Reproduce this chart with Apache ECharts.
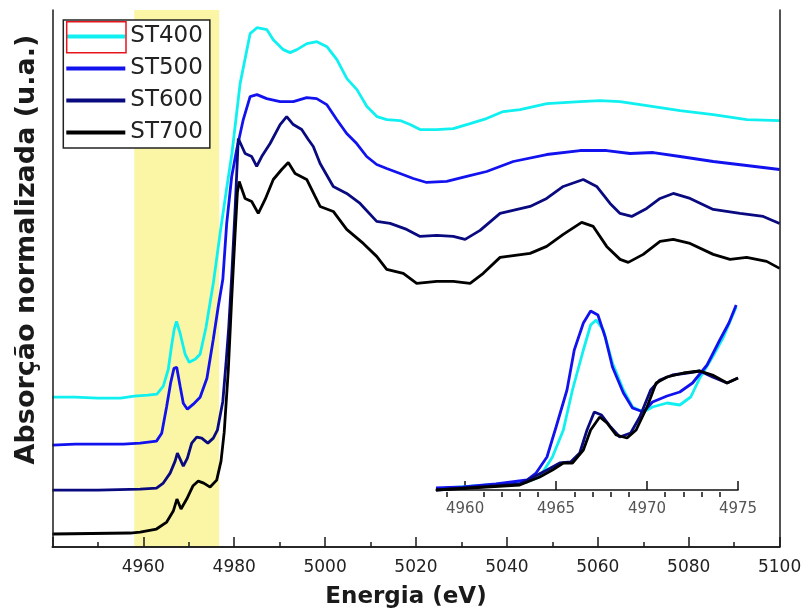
<!DOCTYPE html>
<html>
<head>
<meta charset="utf-8">
<script src="https://cdn.jsdelivr.net/npm/echarts@6/dist/echarts.min.js"></script>
<style>
html, body { margin: 0; padding: 0; background: #fff; }
#chart { width: 806px; height: 614px; }
</style>
</head>
<body>
<div id="chart"></div>
<script>
// sample names + colours
const seriesNames = ['ST400', 'ST500', 'ST600', 'ST700'];
const seriesColors = ['#10F0F0', '#1212EE', '#0A0A80', '#000000'];

// main spectra (energy in eV, normalised absorption with offsets)
const st400E = [4940, 4945, 4950, 4955, 4958, 4961, 4963, 4964.4, 4965.5, 4966.2, 4966.8, 4967.3, 4968.1, 4969.2, 4970.1, 4971.4, 4972.5, 4973.8, 4975.4, 4976.9, 4978.4, 4979.5, 4981.3, 4983.5, 4985, 4987.2, 4988.6, 4990.8, 4992.3, 4993.8, 4996, 4998.2, 5000.4, 5002.6, 5004.8, 5007, 5009.2, 5011.4, 5013.6, 5016.5, 5018.7, 5020.9, 5024.5, 5028.2, 5031.9, 5035.5, 5039.2, 5042.9, 5048.8, 5056.1, 5060.5, 5064.9, 5070.8, 5078.1, 5085.4, 5092.8, 5100];
const st400A = [1.50, 1.50, 1.49, 1.49, 1.51, 1.52, 1.53, 1.61, 1.78, 2.01, 2.18, 2.26, 2.14, 1.93, 1.85, 1.88, 1.93, 2.20, 2.64, 3.14, 3.61, 3.94, 4.64, 5.14, 5.20, 5.18, 5.08, 4.98, 4.95, 4.98, 5.04, 5.06, 5.01, 4.88, 4.69, 4.58, 4.41, 4.31, 4.28, 4.27, 4.23, 4.18, 4.18, 4.19, 4.24, 4.29, 4.36, 4.38, 4.44, 4.46, 4.47, 4.46, 4.42, 4.37, 4.33, 4.28, 4.27];

const st500E = [4940, 4945, 4955.6, 4959.3, 4962.9, 4964.05, 4965.15, 4966, 4966.75, 4967.35, 4968.1, 4968.8, 4969.7, 4971, 4972.5, 4974, 4975.4, 4976.5, 4977.5, 4978.35, 4979.45, 4980.55, 4982, 4983.5, 4985, 4987.15, 4990.1, 4993, 4995.95, 4998.15, 5000.35, 5002.55, 5004.75, 5006.95, 5009.15, 5011.35, 5013.55, 5016.5, 5019.4, 5022.35, 5026.75, 5031.15, 5035.55, 5041.4, 5048.75, 5056.1, 5061.95, 5067.1, 5072.2, 5078.1, 5085.4, 5092.75, 5100];
const st500A = [1.02, 1.03, 1.03, 1.04, 1.06, 1.14, 1.41, 1.64, 1.79, 1.80, 1.61, 1.44, 1.38, 1.43, 1.50, 1.69, 2.08, 2.41, 2.68, 3.24, 3.71, 3.98, 4.28, 4.51, 4.53, 4.49, 4.46, 4.46, 4.50, 4.49, 4.43, 4.28, 4.14, 4.04, 3.91, 3.83, 3.79, 3.74, 3.69, 3.65, 3.66, 3.71, 3.76, 3.86, 3.93, 3.97, 3.97, 3.94, 3.95, 3.91, 3.86, 3.82, 3.78];

const st600E = [4940, 4950, 4959.3, 4962.9, 4964.4, 4965.9, 4967, 4967.5, 4968.1, 4968.8, 4969.7, 4970.65, 4971.75, 4972.85, 4974.2, 4975.4, 4976.3, 4977.5, 4978.2, 4978.8, 4979.45, 4980.2, 4980.9, 4982.4, 4983.85, 4984.95, 4986.05, 4987.9, 4990.1, 4991.55, 4993, 4994.85, 4996.3, 4997.4, 4998.9, 5001.8, 5004.75, 5007.7, 5011.35, 5014.3, 5017.95, 5020.9, 5024.55, 5028.2, 5030.8, 5034.1, 5038.5, 5045.1, 5048.75, 5052.4, 5056.8, 5059.75, 5062.7, 5064.9, 5067.45, 5070.75, 5073.7, 5076.6, 5080.3, 5085.4, 5091.3, 5096.4, 5100];
const st600A = [0.57, 0.57, 0.58, 0.59, 0.64, 0.74, 0.86, 0.94, 0.88, 0.81, 0.89, 1.04, 1.10, 1.09, 1.04, 1.09, 1.17, 1.46, 1.84, 2.20, 2.71, 3.38, 4.09, 3.94, 3.91, 3.81, 3.91, 4.04, 4.23, 4.31, 4.23, 4.18, 4.08, 4.01, 3.84, 3.61, 3.54, 3.44, 3.26, 3.24, 3.18, 3.11, 3.12, 3.11, 3.08, 3.17, 3.34, 3.41, 3.49, 3.61, 3.68, 3.61, 3.44, 3.34, 3.31, 3.39, 3.49, 3.54, 3.49, 3.38, 3.34, 3.31, 3.24];

const st700E = [4940, 4957.1, 4959.3, 4962.9, 4965.15, 4966.6, 4967.4, 4968.3, 4969.55, 4970.9, 4972.1, 4973.3, 4974.7, 4976.15, 4977.1, 4977.8, 4978.7, 4979.45, 4980.2, 4980.7, 4981.1, 4982.4, 4983.85, 4985.3, 4986.8, 4988.6, 4990.45, 4991.9, 4993.4, 4995.95, 4997.8, 4998.9, 5001.8, 5004.75, 5008.4, 5011.35, 5013.55, 5017.2, 5020.15, 5024.55, 5028.2, 5031.9, 5034.8, 5038.5, 5045.1, 5048.75, 5052.4, 5056.45, 5059, 5061.95, 5064.9, 5066.7, 5070, 5073.7, 5076.6, 5080.3, 5085.4, 5089.1, 5092.75, 5097.15, 5100];
const st700A = [0.13, 0.14, 0.15, 0.18, 0.25, 0.36, 0.48, 0.38, 0.48, 0.61, 0.66, 0.64, 0.60, 0.67, 0.86, 1.15, 1.77, 2.49, 3.14, 3.55, 3.66, 3.49, 3.46, 3.34, 3.48, 3.68, 3.78, 3.85, 3.74, 3.68, 3.51, 3.41, 3.36, 3.18, 3.04, 2.91, 2.78, 2.74, 2.64, 2.66, 2.66, 2.64, 2.74, 2.90, 2.94, 3.01, 3.13, 3.25, 3.21, 3.01, 2.88, 2.85, 2.93, 3.06, 3.08, 3.04, 2.93, 2.88, 2.90, 2.86, 2.79];

// inset: pre-edge zoom, no offsets
const in400E = [4958.4, 4961.2, 4963.4, 4964.1, 4964.8, 4965.4, 4965.9, 4966.5, 4966.9, 4967.2, 4967.6, 4968.1, 4968.7, 4969.2, 4969.8, 4970.3, 4971.1, 4971.8, 4972.4, 4972.9, 4973.6, 4974.2, 4974.9];
const in400A = [0.01, 0.05, 0.08, 0.13, 0.33, 0.60, 1.00, 1.40, 1.65, 1.70, 1.60, 1.27, 1.00, 0.83, 0.78, 0.83, 0.87, 0.85, 0.93, 1.12, 1.33, 1.53, 1.83];

const in500E = [4958.4, 4959.9, 4961.7, 4963.4, 4963.9, 4964.5, 4965.0, 4965.6, 4966.0, 4966.5, 4966.9, 4967.3, 4967.7, 4968.1, 4968.7, 4969.2, 4969.8, 4970.3, 4971.1, 4971.8, 4972.5, 4973.3, 4974.0, 4974.5, 4974.9];
const in500A = [0.02, 0.03, 0.06, 0.10, 0.17, 0.33, 0.63, 1.00, 1.40, 1.67, 1.79, 1.75, 1.53, 1.23, 0.97, 0.82, 0.78, 0.88, 0.94, 0.98, 1.07, 1.25, 1.50, 1.67, 1.85];

const in600E = [4958.4, 4963.0, 4964.5, 4965.2, 4965.8, 4966.3, 4966.7, 4967.1, 4967.5, 4968.0, 4968.5, 4969.1, 4969.6, 4970.2, 4970.7, 4971.4, 4972.2, 4972.9, 4973.6, 4974.4, 4975.0];
const in600A = [0.00, 0.06, 0.20, 0.27, 0.28, 0.37, 0.60, 0.78, 0.75, 0.63, 0.53, 0.57, 0.73, 1.00, 1.10, 1.15, 1.17, 1.19, 1.13, 1.07, 1.12];

const in700E = [4958.4, 4963.0, 4964.1, 4964.8, 4965.4, 4965.9, 4966.5, 4966.9, 4967.4, 4967.8, 4968.3, 4968.9, 4969.4, 4970.0, 4970.5, 4971.1, 4972.0, 4972.9, 4973.6, 4974.4, 4975.0];
const in700A = [0.00, 0.05, 0.13, 0.20, 0.27, 0.27, 0.40, 0.60, 0.73, 0.67, 0.55, 0.52, 0.60, 0.83, 1.07, 1.13, 1.17, 1.19, 1.15, 1.07, 1.12];

// highlighted pre-edge window
const bandRange = [4958, 4976.7];
// inset tick values
const insetMajorTicks = [4960, 4965, 4970, 4975];
const insetMinorTicks = [4959, 4961, 4962, 4963, 4964, 4966, 4967, 4968, 4969, 4971, 4972, 4973, 4974];

function toPairs(xs, ys) {
    return xs.map((x, i) => [x, ys[i]]);
}

const mainData = [toPairs(st400E, st400A), toPairs(st500E, st500A), toPairs(st600E, st600A), toPairs(st700E, st700A)];
const insetData = [toPairs(in400E, in400A), toPairs(in500E, in500A), toPairs(in600E, in600A), toPairs(in700E, in700A)];

let myChart = echarts.init(document.getElementById('chart'));

const frameLine = { show: true, lineStyle: { color: '#1a1a1a', width: 1.5 } };
const hidden = { show: false };
const plainNumber = v => String(v);

let series = [
    {
        name: 'band',
        type: 'line',
        xAxisIndex: 0,
        yAxisIndex: 0,
        data: [],
        z: 1,
        markArea: {
            silent: true,
            itemStyle: { color: '#FAF6A6' },
            data: [[{ xAxis: bandRange[0] }, { xAxis: bandRange[1] }]]
        }
    }
];

seriesNames.forEach((name, i) => {
    series.push({
        name: name,
        type: 'line',
        xAxisIndex: 0,
        yAxisIndex: 0,
        showSymbol: false,
        z: 3,
        lineStyle: { color: seriesColors[i], width: 2.8 },
        itemStyle: { color: seriesColors[i] },
        data: mainData[i]
    });
});
seriesNames.forEach((name, i) => {
    series.push({
        name: name,
        type: 'line',
        xAxisIndex: 2,
        yAxisIndex: 2,
        showSymbol: false,
        z: 3,
        lineStyle: { color: seriesColors[i], width: 2.8 },
        itemStyle: { color: seriesColors[i] },
        data: insetData[i]
    });
});

let option = {
    animation: false,
    backgroundColor: '#fff',
    grid: [
        { left: 52.4, top: 10, right: 26.4, bottom: 66.3 },
        { left: 436, top: 290, right: 68, bottom: 117 }
    ],
    legend: {
        data: seriesNames,
        orient: 'vertical',
        left: 63.3,
        top: 20,
        padding: [5, 7, 4, 3],
        itemGap: 9,
        itemWidth: 59,
        itemHeight: 4,
        icon: 'rect',
        backgroundColor: '#fff',
        borderColor: '#222',
        borderWidth: 1.5,
        textStyle: { fontFamily: 'DejaVu Sans', fontSize: 23, color: '#222' }
    },
    xAxis: [
        {
            gridIndex: 0, type: 'value', min: 4940, max: 5100, interval: 20,
            position: 'bottom', z: 5,
            axisLine: frameLine,
            axisTick: { inside: true, length: 10, lineStyle: { color: '#1a1a1a', width: 1.5 } },
            minorTick: { show: true, splitNumber: 2, length: 5, lineStyle: { color: '#1a1a1a', width: 1.5 } },
            axisLabel: { showMinLabel: false, margin: 12, fontFamily: 'DejaVu Sans', fontSize: 17, color: '#222', formatter: plainNumber },
            splitLine: hidden,
            minorSplitLine: hidden,
            name: 'Energia (eV)',
            nameLocation: 'middle',
            nameGap: 39,
            nameTextStyle: { fontFamily: 'DejaVu Sans', fontWeight: 'bold', fontSize: 23, color: '#1a1a1a', padding: [0, 20, 0, 0] }
        },
        {
            gridIndex: 0, type: 'value', min: 4940, max: 5100, position: 'top', z: 5,
            axisLine: frameLine, axisTick: hidden, axisLabel: hidden, splitLine: hidden
        },
        {
            gridIndex: 1, type: 'value', min: 4958.4, max: 4975, position: 'bottom',
            axisLine: { show: true, lineStyle: { color: '#111', width: 1.5 } },
            axisTick: { inside: true, length: 9, customValues: insetMajorTicks, lineStyle: { color: '#111', width: 1.5 } },
            axisLabel: { customValues: insetMajorTicks, margin: 5, fontFamily: 'DejaVu Sans', fontSize: 15, color: '#555', formatter: plainNumber },
            splitLine: hidden
        },
        {
            gridIndex: 1, type: 'value', min: 4958.4, max: 4975, position: 'bottom',
            axisLine: hidden,
            axisTick: { inside: true, length: 5, customValues: insetMinorTicks, lineStyle: { color: '#111', width: 1.5 } },
            axisLabel: hidden,
            splitLine: hidden
        }
    ],
    yAxis: [
        {
            gridIndex: 0, type: 'value', min: 0, max: 5.377, position: 'left', z: 5,
            axisLine: frameLine, axisTick: hidden, axisLabel: hidden, splitLine: hidden,
            name: 'Absorção normalizada (u.a.)',
            nameLocation: 'middle',
            nameGap: 12,
            nameTextStyle: { fontFamily: 'DejaVu Sans', fontWeight: 'bold', fontSize: 27, color: '#1a1a1a', padding: [0, 0, 0, 58] }
        },
        {
            gridIndex: 0, type: 'value', min: 0, max: 5.377, position: 'right', z: 5,
            axisLine: frameLine, axisTick: hidden, axisLabel: hidden, splitLine: hidden
        },
        { gridIndex: 1, type: 'value', min: -0.07, max: 2, show: false }
    ],
    graphic: [
        {
            type: 'rect',
            z: 100,
            shape: { x: 66.7, y: 21.7, width: 59.3, height: 31 },
            style: { fill: 'none', stroke: '#e8141c', lineWidth: 1.5 }
        }
    ],
    series: series
};

myChart.setOption(option);
</script>
</body>
</html>
